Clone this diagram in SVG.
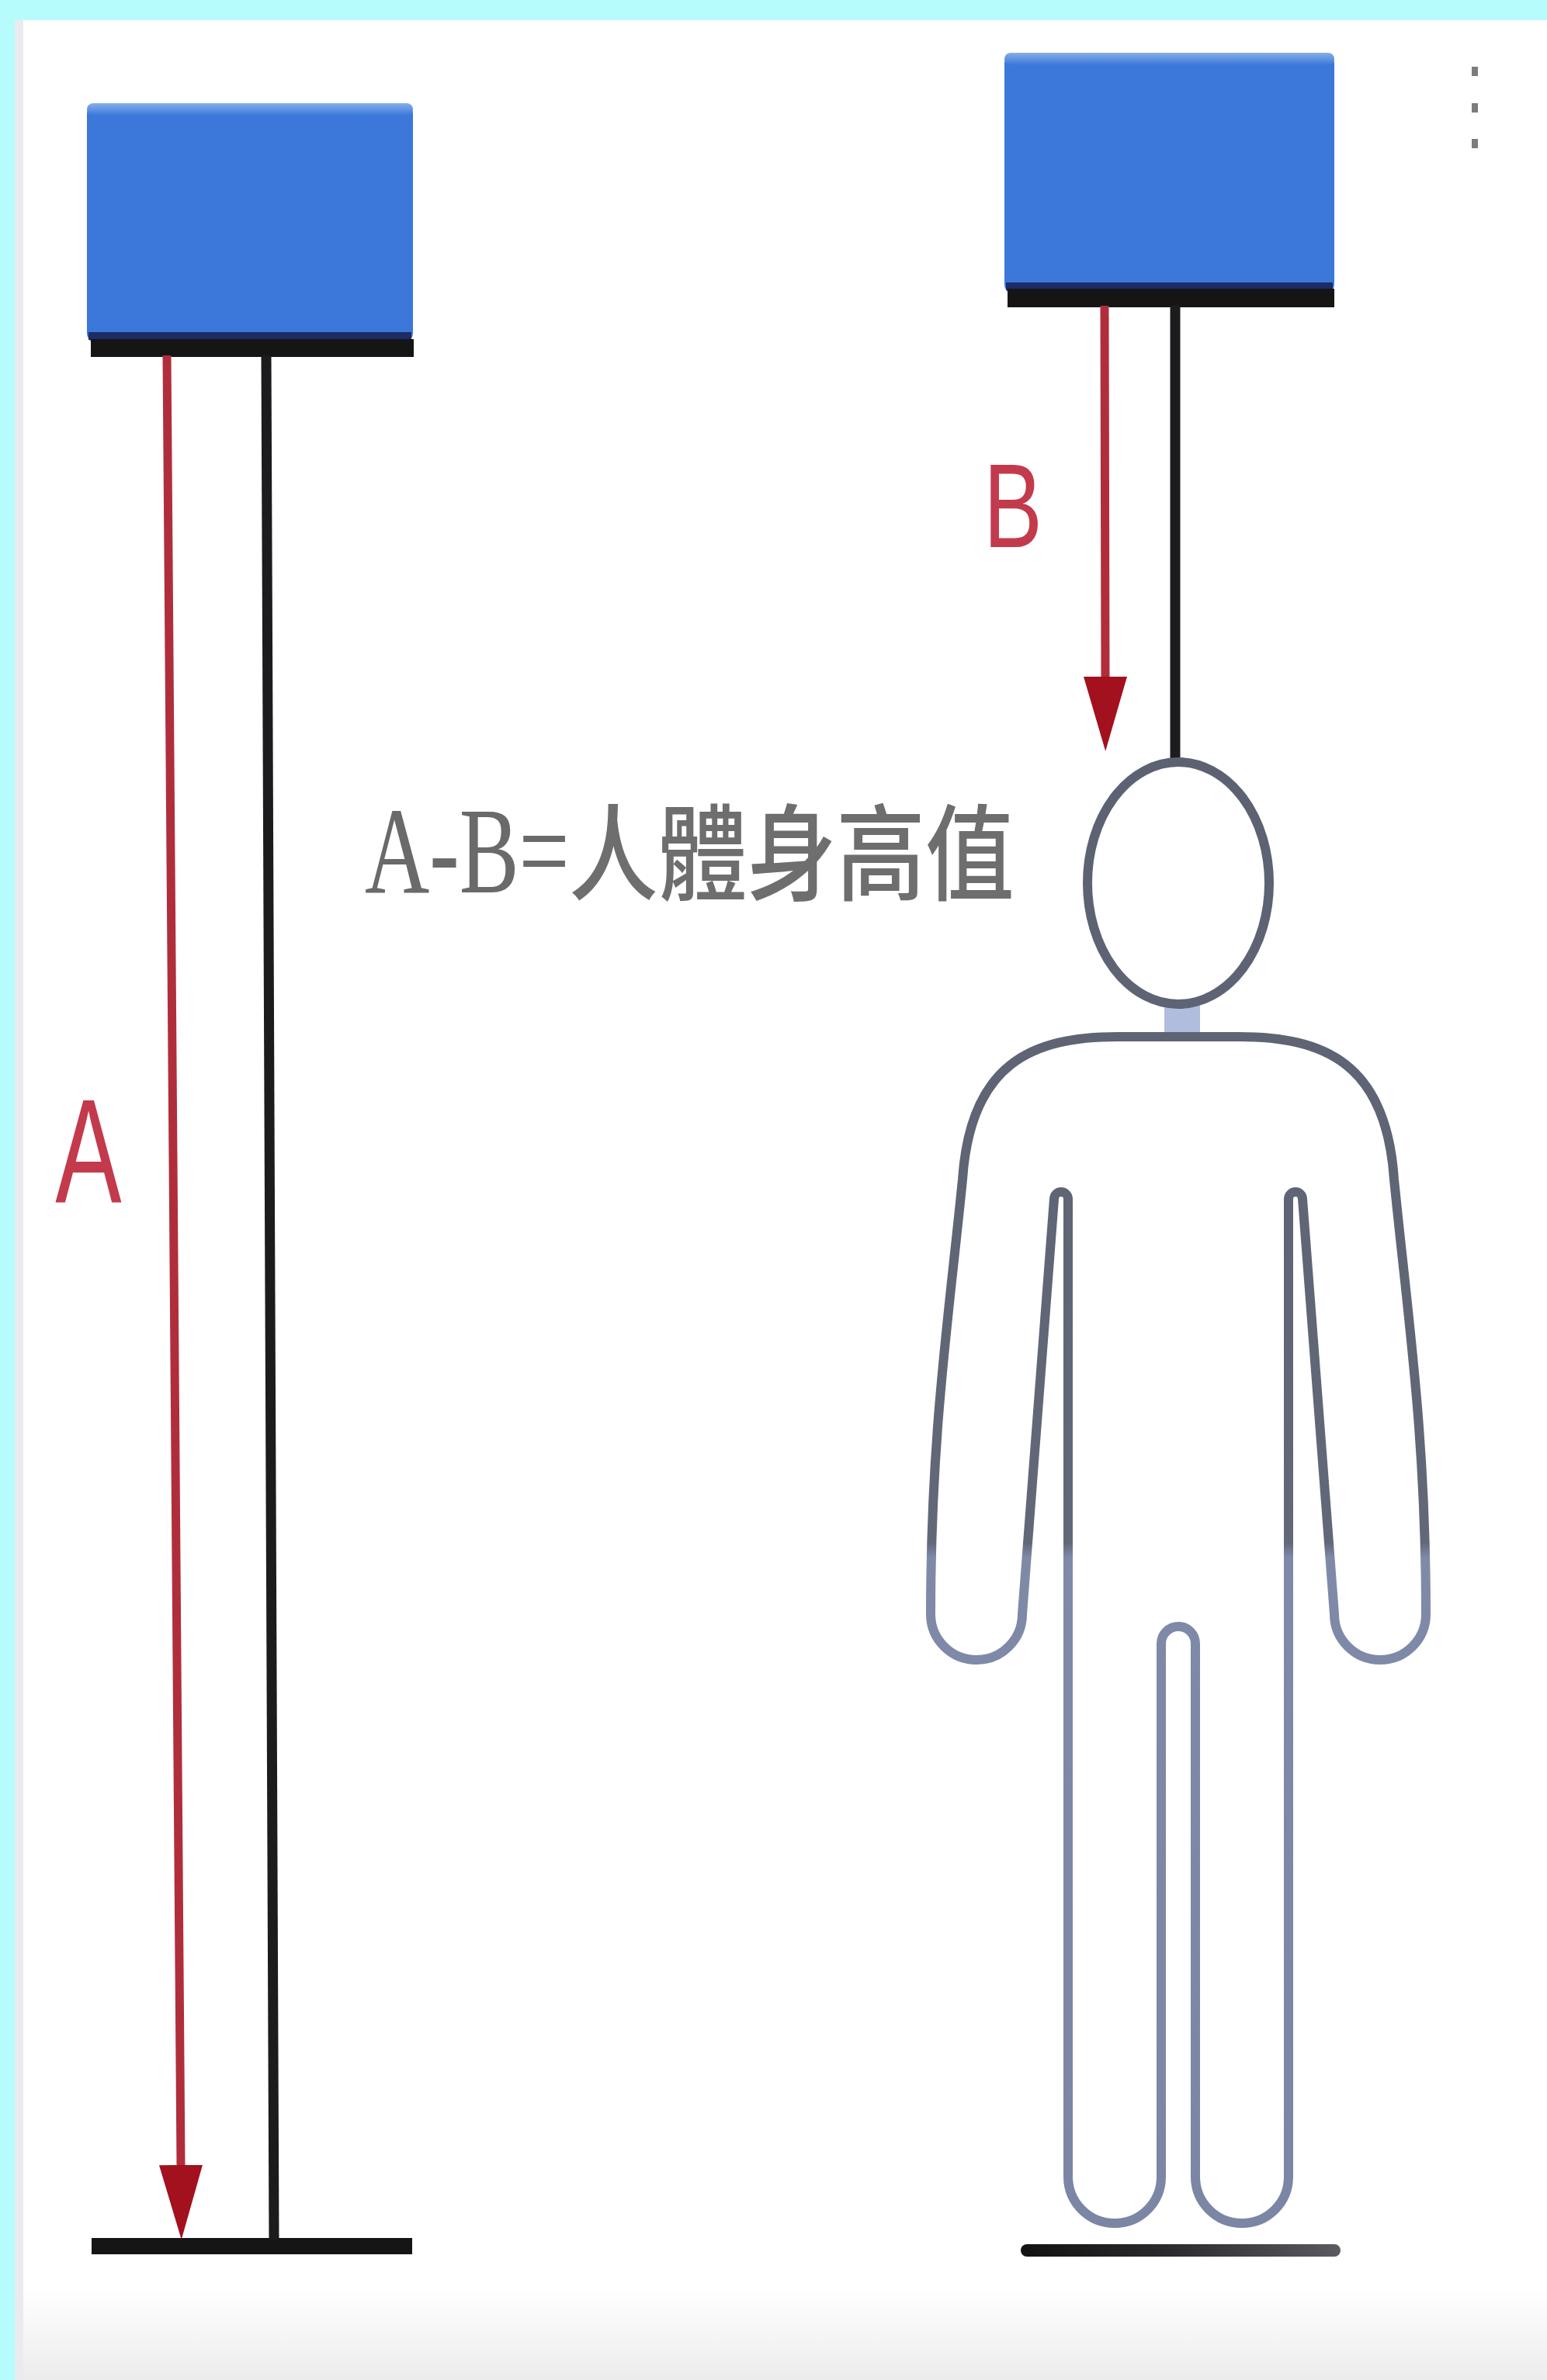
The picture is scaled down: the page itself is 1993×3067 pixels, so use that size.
<svg xmlns="http://www.w3.org/2000/svg" width="1993" height="3067" viewBox="0 0 1993 3067">
  <style>
    .pole { stroke: #1c1c1e; stroke-width: 13; stroke-linecap: butt; fill: none; }
    .measure { stroke: #b02e3c; stroke-width: 11; fill: none; }
    .box { fill: #3b78da; }
    .box-edge { fill: #1b2c66; }
    .bar { fill: #151515; }
    .outline { fill: none; stroke: url(#bodyStroke); stroke-width: 12; stroke-linejoin: round; }
    .tag { font-family: "Liberation Sans", Arial, sans-serif; fill: #c33a4c; }
    .caption { font-family: "Liberation Serif", "Noto Sans CJK TC", serif; fill: #6a6a6a; }
    .caption-cjk { font-family: "Noto Sans CJK TC", "Noto Sans CJK SC", sans-serif; fill: #6e6e6e; font-weight: 500; }
    .dot { fill: #7c7c7c; }
  </style>
  <defs>
    <marker id="headRed" viewBox="0 0 96 56" refX="0" refY="28" markerWidth="96" markerHeight="56" markerUnits="userSpaceOnUse" orient="auto">
      <path d="M0,0 L96,28 L0,56 Z" fill="#a3101e"/>
    </marker>
    <linearGradient id="bodyStroke" gradientUnits="userSpaceOnUse" x1="0" y1="1000" x2="0" y2="2900">
      <stop offset="0" stop-color="#5c6271"/>
      <stop offset="0.52" stop-color="#626878"/>
      <stop offset="0.53" stop-color="#7e8aa8"/>
      <stop offset="1" stop-color="#7a86a4"/>
    </linearGradient>
    <linearGradient id="boxTop" x1="0" y1="0" x2="0" y2="1">
      <stop offset="0" stop-color="#86aeea"/>
      <stop offset="1" stop-color="#3b78da"/>
    </linearGradient>
    <linearGradient id="floorHaze" x1="0" y1="0" x2="0" y2="1">
      <stop offset="0" stop-color="#ffffff"/>
      <stop offset="1" stop-color="#ececec"/>
    </linearGradient>
    <linearGradient id="floorBar" x1="0" y1="0" x2="1" y2="0">
      <stop offset="0" stop-color="#121212"/>
      <stop offset="0.45" stop-color="#2a2a2e"/>
      <stop offset="1" stop-color="#5a5a60"/>
    </linearGradient>
  </defs>

  <!-- page frame -->
  <g id="background">
    <rect x="0" y="0" width="1993" height="3067" fill="#b6fcfc"/>
    <rect x="19" y="26" width="1974" height="3041" fill="#ffffff"/>
    <rect x="19" y="26" width="11" height="3041" fill="#eaebef"/>
    <rect x="30" y="2950" width="1963" height="117" fill="url(#floorHaze)"/>
    <rect class="dot" x="1896" y="86" width="8" height="12"/>
    <rect class="dot" x="1896" y="133" width="8" height="12"/>
    <rect class="dot" x="1896" y="179" width="8" height="12"/>
  </g>

  <!-- ceiling unit, left -->
  <g id="unit-left">
    <rect class="box" x="112" y="133" width="420" height="310" rx="14"/>
    <rect x="112" y="133" width="420" height="16" rx="8" fill="url(#boxTop)"/>
    <rect class="box-edge" x="114" y="428" width="416" height="10"/>
    <rect class="bar" x="117" y="437" width="416" height="23"/>
  </g>

  <!-- ceiling unit, right -->
  <g id="unit-right">
    <rect class="box" x="1294" y="68" width="425" height="312" rx="14"/>
    <rect x="1294" y="68" width="425" height="16" rx="8" fill="url(#boxTop)"/>
    <rect class="box-edge" x="1296" y="364" width="421" height="10"/>
    <rect class="bar" x="1298" y="372" width="421" height="24"/>
  </g>

  <!-- floor plates -->
  <g id="floor-left">
    <rect class="bar" x="118" y="2884" width="413" height="21"/>
  </g>
  <g id="floor-right">
    <rect x="1315" y="2892" width="412" height="16" rx="8" fill="url(#floorBar)"/>
  </g>

  <!-- poles and measuring arrows -->
  <g id="connectors">
    <line class="pole" x1="343" y1="458" x2="353" y2="2886"/>
    <line class="pole" x1="1514" y1="394" x2="1514" y2="978"/>
    <line class="measure" x1="215" y1="458" x2="233" y2="2790" marker-end="url(#headRed)"/>
    <line class="measure" x1="1423" y1="394" x2="1424" y2="872" marker-end="url(#headRed)"/>
  </g>

  <!-- standing person -->
  <g id="person">
    <rect x="1500" y="1296" width="46" height="36" fill="#b0bddc"/>
    <ellipse class="outline" cx="1518" cy="1138" rx="117" ry="156"/>
    <path class="outline" d="M 1440 1336 C 1330 1336 1250 1370 1240 1520 C 1222 1700 1199 1850 1199 2080 A 59 59 0 0 0 1317 2080 L 1358 1545 A 9 9 0 0 1 1376 1545 L 1376 2805 A 60 60 0 0 0 1496 2805 L 1496 2118 A 22 22 0 0 1 1540 2118 L 1540 2805 A 60 60 0 0 0 1660 2805 L 1660 1545 A 9 9 0 0 1 1678 1545 L 1719 2080 A 59 59 0 0 0 1837 2080 C 1837 1850 1814 1700 1796 1520 C 1786 1370 1706 1336 1596 1336 Z"/>
  </g>

  <!-- labels -->
  <g id="labels">
    <text class="tag" font-size="191" text-anchor="middle" transform="translate(114,1550) scale(0.67,1)">A</text>
    <text class="tag" font-size="154" text-anchor="middle" transform="translate(1305,705) scale(0.74,1)">B</text>
    <text class="caption" font-size="158" transform="translate(470,1150) scale(0.73,1)">A-B=</text>
    <text class="caption-cjk" font-size="135" transform="translate(733,1150) scale(0.85,1)">人體身高值</text>
  </g>
</svg>
